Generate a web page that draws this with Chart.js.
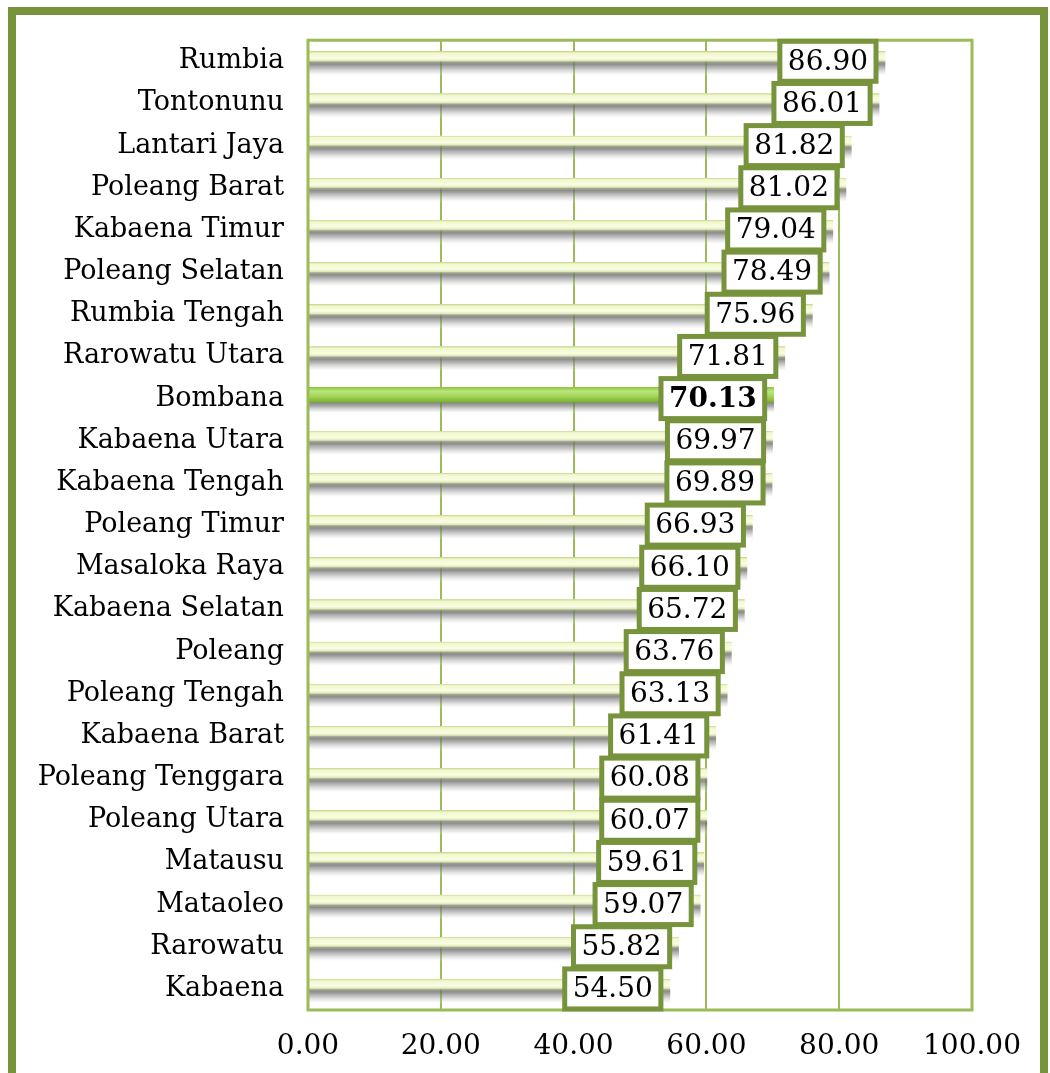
<!DOCTYPE html>
<html>
<head>
<meta charset="utf-8">
<script src="https://cdn.jsdelivr.net/npm/chart.js@4.4.1/dist/chart.umd.min.js"></script>
<style>
  html, body { margin: 0; padding: 0; background: #fff; overflow: hidden; }
  #wrap { position: relative; width: 1050px; height: 1073px; }
  #frame {
    position: absolute; left: 8px; top: 7px; width: 1040px; height: 1120px;
    box-sizing: border-box; border: 8px solid #77933c;
  }
  canvas { position: absolute; left: 0; top: 0; }
</style>
</head>
<body>
<div id="wrap">
  <div id="frame"></div>
  <canvas id="chart" width="1050" height="1073"></canvas>
</div>
<script>
// Kecamatan (urut dari nilai tertinggi)
const districts = [
  'Rumbia', 'Tontonunu', 'Lantari Jaya', 'Poleang Barat', 'Kabaena Timur',
  'Poleang Selatan', 'Rumbia Tengah', 'Rarowatu Utara', 'Bombana', 'Kabaena Utara',
  'Kabaena Tengah', 'Poleang Timur', 'Masaloka Raya', 'Kabaena Selatan', 'Poleang',
  'Poleang Tengah', 'Kabaena Barat', 'Poleang Tenggara', 'Poleang Utara', 'Matausu',
  'Mataoleo', 'Rarowatu', 'Kabaena'
];
const values = [
  86.90, 86.01, 81.82, 81.02, 79.04,
  78.49, 75.96, 71.81, 70.13, 69.97,
  69.89, 66.93, 66.10, 65.72, 63.76,
  63.13, 61.41, 60.08, 60.07, 59.61,
  59.07, 55.82, 54.50
];
const highlight = 'Bombana';
const xTicks = [0, 20, 40, 60, 80, 100];

const FONT = '"DejaVu Serif", "Liberation Serif", serif';
const GREEN_DARK = '#77933c';
const GREEN_LINE = '#9bbb59';
const BAR_HALF = 15;

function barFill(context) {
  const chart = context.chart;
  if (!chart.chartArea) return '#f5f8dc';
  const y = chart.scales.y.getPixelForValue(context.dataIndex);
  const g = chart.ctx.createLinearGradient(0, y - BAR_HALF, 0, y + BAR_HALF);
  if (districts[context.dataIndex] === highlight) {
    g.addColorStop(0, 'rgba(255,255,255,0)');
    g.addColorStop(0.12, 'rgba(255,255,255,0)');
    g.addColorStop(0.13, '#8cc63f');
    g.addColorStop(0.25, '#bce67e');
    g.addColorStop(0.42, '#a2d658');
    g.addColorStop(0.6, '#7fb535');
    g.addColorStop(0.65, 'rgba(105,115,95,0.8)');
    g.addColorStop(0.76, 'rgba(120,120,120,0.6)');
    g.addColorStop(0.9, 'rgba(185,185,185,0.3)');
    g.addColorStop(1, 'rgba(255,255,255,0)');
  } else {
    g.addColorStop(0, 'rgba(255,255,255,0)');
    g.addColorStop(0.16, 'rgba(255,255,255,0)');
    g.addColorStop(0.17, '#c6da8c');
    g.addColorStop(0.23, '#f1f7cc');
    g.addColorStop(0.4, '#fafde4');
    g.addColorStop(0.48, '#dfe9b8');
    g.addColorStop(0.53, 'rgba(140,146,120,0.85)');
    g.addColorStop(0.6, 'rgba(110,110,110,0.78)');
    g.addColorStop(0.76, 'rgba(145,145,145,0.5)');
    g.addColorStop(0.9, 'rgba(200,200,200,0.25)');
    g.addColorStop(1, 'rgba(255,255,255,0)');
  }
  return g;
}

// bingkai area plot
const plotFrame = {
  id: 'plotFrame',
  afterDatasetsDraw(chart) {
    const { ctx, chartArea: a } = chart;
    ctx.save();
    ctx.strokeStyle = GREEN_LINE;
    ctx.lineWidth = 3;
    ctx.strokeRect(a.left, a.top, a.right - a.left, a.bottom - a.top);
    ctx.restore();
  }
};

// label nilai dalam kotak
const valueBoxes = {
  id: 'valueBoxes',
  afterDatasetsDraw(chart) {
    const { ctx } = chart;
    const meta = chart.getDatasetMeta(0);
    ctx.save();
    meta.data.forEach((bar, i) => {
      const bold = districts[i] === highlight;
      ctx.font = (bold ? 'bold ' : '') + '28px ' + FONT;
      const text = values[i].toFixed(2);
      const tw = ctx.measureText(text).width;
      const w = tw + 16, h = 40;
      const right = bar.x - 9;
      const left = right - w;
      const top = bar.y - h / 2;
      ctx.fillStyle = '#fff';
      ctx.fillRect(left, top, w, h);
      ctx.strokeStyle = GREEN_DARK;
      ctx.lineWidth = 5;
      ctx.strokeRect(left, top, w, h);
      ctx.fillStyle = '#000';
      ctx.textAlign = 'center';
      ctx.textBaseline = 'middle';
      ctx.fillText(text, left + w / 2, top + h / 2 + 1);
    });
    ctx.restore();
  }
};

new Chart(document.getElementById('chart'), {
  type: 'bar',
  data: {
    labels: districts,
    datasets: [{
      data: values,
      backgroundColor: barFill,
      borderWidth: 0,
      barThickness: BAR_HALF * 2
    }]
  },
  options: {
    indexAxis: 'y',
    responsive: false,
    animation: false,
    layout: { padding: { left: 18, right: 78, top: 40, bottom: 0 } },
    plugins: {
      legend: { display: false },
      tooltip: { enabled: false }
    },
    scales: {
      x: {
        min: 0,
        max: 100,
        afterBuildTicks: s => { s.ticks = xTicks.map(v => ({ value: v })); },
        afterFit: s => { s.height = 63; },
        ticks: {
          color: '#000',
          font: { family: FONT, size: 28 },
          padding: 20,
          maxRotation: 0,
          callback: v => Number(v).toFixed(2)
        },
        grid: { color: GREEN_LINE, lineWidth: 2, drawTicks: false },
        border: { display: false }
      },
      y: {
        afterFit: s => { s.width = 290; },
        ticks: {
          color: '#000',
          font: { family: FONT, size: 27 },
          padding: 24
        },
        grid: { display: false, drawTicks: false },
        border: { display: false }
      }
    }
  },
  plugins: [plotFrame, valueBoxes]
});
</script>
</body>
</html>
